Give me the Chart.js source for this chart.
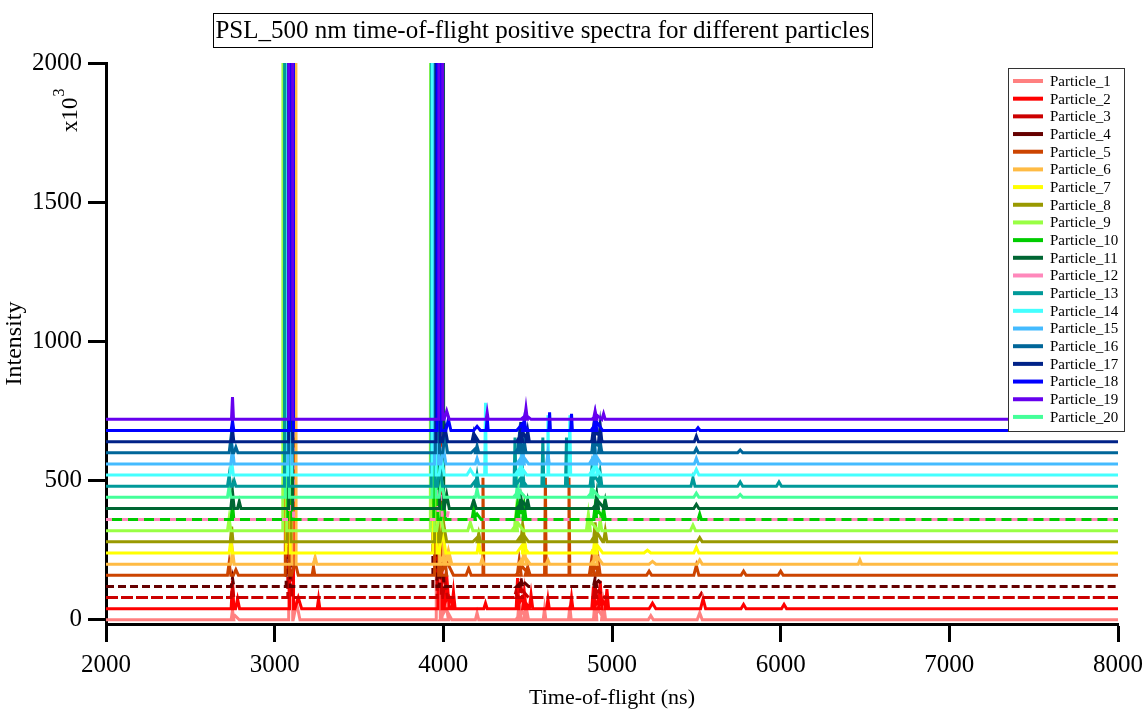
<!DOCTYPE html>
<html>
<head>
<meta charset="utf-8">
<script src="https://cdn.jsdelivr.net/npm/chart.js@4"></script>
<style>
  html, body { margin: 0; padding: 0; background: #fff; }
  #wrap { width: 1147px; height: 711px; }
</style>
</head>
<body>
<div id="wrap"><canvas id="c" width="1147" height="711"></canvas></div>
<script>
// ---- DATA ----
const particleNames = ['Particle_1','Particle_2','Particle_3','Particle_4','Particle_5','Particle_6','Particle_7','Particle_8','Particle_9','Particle_10',
  'Particle_11','Particle_12','Particle_13','Particle_14','Particle_15','Particle_16','Particle_17','Particle_18','Particle_19','Particle_20'];
// vertical offset of each spectrum (x10^3)
const baselineOffsets = [0,40,80,120,160,200,240,280,320,360,400,360,480,520,560,600,640,680,720,440];
const particleColors = ['#ff8080','#ff0000','#cc0000','#660000','#cc4400','#ffbb44','#ffff00','#999900','#99ff44','#00cc00',
  '#006633','#ff88bb','#009999','#44ffff','#44bbff','#006699','#002288','#0000ff','#6600ee','#44ff99'];
const xTickValues = [2000,3000,4000,5000,6000,7000,8000];
const yTickValues = [0,500,1000,1500,2000];

// peaks per particle: [time (ns), height above own baseline (x10^3), half width (ns)]
const p1Peaks  = [[2750,35,8],[2765,15,25],[3095,20000,12],[3130,60,20],[3970,20000,12],[4010,80,20],[4015,40,35],[4200,25,10],[4450,70,10],[4465,30,35],[4490,50,15],[4600,40,8],[4750,50,8],[4900,75,10],[4920,35,35],[4950,60,12],[5230,15,15],[5520,25,15]];
const p2Peaks  = [[2750,100,8],[2780,35,12],[3100,20000,12],[3140,40,20],[3260,35,8],[3980,20000,12],[4020,120,15],[4030,50,35],[4060,60,10],[4250,20,10],[4440,110,8],[4470,40,40],[4480,60,10],[4520,50,10],[4620,35,8],[4760,40,8],[4890,80,10],[4930,100,10],[4930,45,40],[4970,70,10],[5240,20,20],[5540,35,15],[5780,15,15],[6020,15,15]];
const p3Peaks  = [[2750,40,8],[3090,20000,12],[3975,20000,12],[4010,60,15],[4430,20,8],[4460,40,10],[4470,25,35],[4900,40,10],[4920,25,35],[5530,15,15]];
const p4Peaks  = [[2750,30,8],[3080,20000,12],[3950,20000,12],[3990,100,15],[4460,30,10],[4470,20,35],[4900,30,10],[4920,20,35]];
const p5Peaks  = [[2730,45,10],[2770,20,15],[3075,20000,12],[3120,50,20],[3230,30,8],[3960,20000,12],[4000,110,20],[4020,50,40],[4150,25,15],[4235,350,5],[4450,55,12],[4470,30,40],[4500,30,15],[4605,350,5],[4745,350,5],[4880,60,15],[4900,30,35],[4920,50,10],[5220,15,15],[5500,35,15],[5780,15,15],[6000,15,15]];
const p6Peaks  = [[2750,50,10],[3115,20000,12],[3240,25,10],[3990,20000,12],[4010,40,35],[4030,50,20],[4230,20,10],[4480,60,12],[4480,30,35],[4620,15,10],[4900,50,12],[4910,30,35],[5240,10,20],[5520,15,15],[6470,15,10]];
const p7Peaks  = [[2740,45,10],[3080,20000,12],[3950,20000,12],[3995,80,20],[4210,40,10],[4470,30,35],[4480,60,12],[4900,60,12],[4910,30,35],[5210,10,20],[5500,20,15]];
const p8Peaks  = [[2745,55,8],[3085,20000,12],[3960,20000,12],[4000,70,20],[4200,15,25],[4210,30,10],[4470,60,10],[4470,30,35],[4900,70,10],[4910,35,35],[4960,40,10],[5520,15,15]];
const p9Peaks  = [[2730,45,10],[3060,20000,12],[3935,20000,12],[3980,70,20],[4160,30,15],[4430,60,10],[4440,30,35],[4860,60,12],[4880,30,35],[4930,40,10],[5480,20,15]];
const p10Peaks = [[2750,60,8],[3090,20000,12],[3955,20000,12],[4000,70,15],[4180,40,10],[4200,20,25],[4440,60,10],[4460,30,35],[4480,50,10],[4900,50,10],[4920,30,35],[4950,40,10],[5520,20,10]];
const p11Peaks = [[2750,60,10],[2790,25,10],[3095,20000,12],[3990,20000,12],[4020,50,15],[4180,30,15],[4460,40,10],[4470,25,35],[4500,30,10],[4910,50,10],[4920,25,35],[4960,30,10],[5500,15,15]];
const p12Peaks = [[3100,20000,12],[3980,20000,12],[4030,30,10]];
const p13Peaks = [[2730,40,10],[2760,20,10],[3070,20000,12],[3940,20000,12],[3980,70,15],[4190,20,25],[4200,40,10],[4425,175,6],[4460,30,35],[4470,60,10],[4590,175,6],[4730,175,6],[4880,60,10],[4900,35,35],[4930,50,10],[5480,30,12],[5760,15,15],[5990,15,15]];
const p14Peaks = [[2745,50,10],[3090,20000,12],[3945,20000,12],[3990,60,15],[4160,20,20],[4250,260,5],[4460,60,10],[4460,30,35],[4620,215,5],[4750,215,5],[4900,70,12],[4900,35,35],[5500,20,15]];
const p15Peaks = [[2750,55,10],[3090,20000,12],[3960,20000,12],[4000,60,15],[4200,20,10],[4470,60,10],[4470,30,35],[4620,40,8],[4900,60,10],[4900,35,35],[5500,20,12]];
const p16Peaks = [[2740,50,10],[2770,20,12],[3095,20000,12],[3965,20000,12],[4010,60,15],[4190,15,25],[4200,25,10],[4450,60,10],[4460,30,35],[4480,40,10],[4890,60,10],[4910,35,35],[4930,40,10],[5500,15,12],[5760,10,15]];
const p17Peaks = [[2750,45,8],[3095,20000,12],[3970,20000,12],[4010,50,15],[4180,30,10],[4190,20,20],[4460,70,10],[4470,35,35],[4500,40,10],[4890,50,10],[4910,35,35],[4930,60,10],[5500,20,12]];
const p18Peaks = [[2750,35,8],[3100,20000,12],[3975,20000,12],[4030,40,15],[4200,15,20],[4260,50,6],[4470,25,35],[4480,40,10],[4630,65,5],[4760,60,5],[4900,50,10],[4910,30,35],[5510,10,12]];
const p19Peaks = [[2750,80,6],[3095,20000,12],[3985,20000,12],[4020,30,15],[4260,25,6],[4490,40,8],[4490,15,30],[4900,30,10],[4910,15,30],[4950,20,10]];
const p20Peaks = [[2730,40,10],[3075,20000,12],[3945,20000,12],[3990,60,15],[4200,30,10],[4440,50,10],[4450,25,35],[4880,40,10],[4890,25,35],[5500,15,15],[5760,10,15]];
const peakLists = [p1Peaks,p2Peaks,p3Peaks,p4Peaks,p5Peaks,p6Peaks,p7Peaks,p8Peaks,p9Peaks,p10Peaks,
  p11Peaks,p12Peaks,p13Peaks,p14Peaks,p15Peaks,p16Peaks,p17Peaks,p18Peaks,p19Peaks,p20Peaks];
const dashPatterns = {2:[12,3], 3:[8,4], 11:[6,10]};

// ---- BUILD ----
function toSpectrum(peaks, offset) {
  const pts = [{x: 2000, y: offset}];
  peaks.slice().sort((a, b) => a[0] - b[0]).forEach(([t, h, w]) => {
    pts.push({x: t - w, y: offset}, {x: t, y: offset + h}, {x: t + w, y: offset});
  });
  pts.push({x: 8000, y: offset});
  return pts;
}

const datasets = particleNames.map((name, i) => ({
  label: name,
  data: toSpectrum(peakLists[i], baselineOffsets[i]),
  borderColor: particleColors[i],
  backgroundColor: particleColors[i],
  borderWidth: 3,
  borderDash: dashPatterns[i] || [],
  pointRadius: 0,
  tension: 0,
  fill: false,
  order: -(baselineOffsets[i] + i * 0.01)
}));

const SERIF = '"Liberation Serif", "Times New Roman", serif';

const decorations = {
  id: 'decorations',
  afterDraw(chart) {
    const ctx = chart.ctx;
    ctx.save();
    // title box
    ctx.fillStyle = '#fff';
    ctx.fillRect(213, 13, 659, 34);
    ctx.strokeStyle = '#000';
    ctx.lineWidth = 1;
    ctx.strokeRect(213.5, 13.5, 659, 34);
    ctx.fillStyle = '#000';
    ctx.font = '25px ' + SERIF;
    ctx.textAlign = 'center';
    ctx.textBaseline = 'middle';
    ctx.fillText('PSL_500 nm time-of-flight positive spectra for different particles', 542.5, 31);

    // x10^3 label
    ctx.save();
    ctx.translate(77, 132);
    ctx.rotate(-Math.PI / 2);
    ctx.textAlign = 'left';
    ctx.textBaseline = 'alphabetic';
    ctx.font = '23px ' + SERIF;
    ctx.fillText('x10', 0, 0);
    const w = ctx.measureText('x10').width;
    ctx.font = '16px ' + SERIF;
    ctx.fillText('3', w + 1, -13);
    ctx.restore();

    // legend box
    const lx = 1008, ly = 68, lw = 116, lh = 363;
    ctx.fillStyle = '#fff';
    ctx.fillRect(lx, ly, lw, lh);
    ctx.strokeStyle = '#333';
    ctx.lineWidth = 1;
    ctx.strokeRect(lx + 0.5, ly + 0.5, lw, lh);
    ctx.font = '15px ' + SERIF;
    ctx.textAlign = 'left';
    ctx.textBaseline = 'middle';
    chart.data.datasets.forEach((ds, i) => {
      const y = 81 + i * 17.68;
      ctx.strokeStyle = ds.borderColor;
      ctx.lineWidth = 4;
      ctx.beginPath();
      ctx.moveTo(1013, y);
      ctx.lineTo(1043, y);
      ctx.stroke();
      ctx.fillStyle = '#000';
      ctx.fillText(ds.label, 1050, y + 1);
    });
    ctx.restore();
  }
};

new Chart(document.getElementById('c'), {
  type: 'line',
  data: { datasets },
  options: {
    responsive: false,
    animation: false,
    events: [],
    layout: { padding: { top: 63, right: 29, left: 0, bottom: 0 } },
    plugins: { legend: { display: false }, tooltip: { enabled: false }, title: { display: false } },
    scales: {
      x: {
        type: 'linear',
        min: 2000, max: 8000,
        afterBuildTicks: s => { s.ticks = xTickValues.map(v => ({value: v})); },
        afterFit: s => { s.height = 87; s.paddingLeft = 0; s.paddingRight = 0; },
        ticks: { color: '#000', font: { family: SERIF, size: 25 }, padding: 8, maxRotation: 0, callback: v => String(v) },
        grid: { drawOnChartArea: false, drawTicks: true, tickLength: 18, tickWidth: 3, color: '#000' },
        border: { display: true, color: '#000', width: 3 },
        title: { display: true, text: 'Time-of-flight (ns)', color: '#000', font: { family: SERIF, size: 22 }, padding: { top: 2, bottom: 0 } }
      },
      y: {
        type: 'linear',
        min: -15, max: 2000,
        afterBuildTicks: s => { s.ticks = yTickValues.map(v => ({value: v})); },
        afterFit: s => { s.width = 106; s.paddingTop = 0; s.paddingBottom = 0; },
        ticks: { color: '#000', font: { family: SERIF, size: 25 }, padding: 6, callback: v => String(v) },
        grid: { drawOnChartArea: false, drawTicks: true, tickLength: 18, tickWidth: 3, color: '#000' },
        border: { display: true, color: '#000', width: 3 },
        title: { display: true, text: 'Intensity', color: '#000', font: { family: SERIF, size: 24 }, padding: { top: 0, bottom: 0 } }
      }
    }
  },
  plugins: [decorations]
});
</script>
</body>
</html>
